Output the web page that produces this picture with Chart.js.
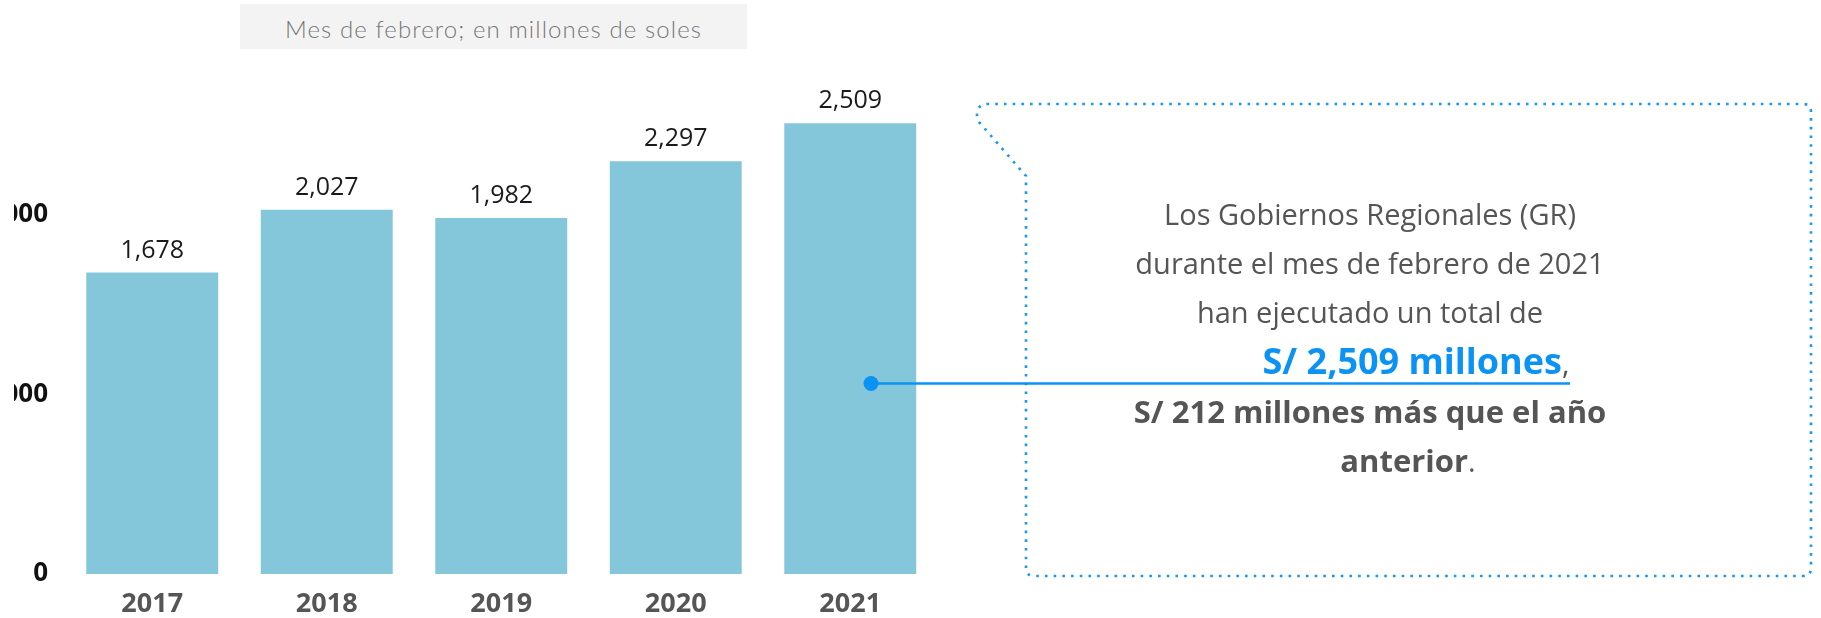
<!DOCTYPE html>
<html>
<head>
<meta charset="utf-8">
<script src="https://cdn.jsdelivr.net/npm/chart.js@4.4.1/dist/chart.umd.min.js"></script>
<style>
    html, body { margin: 0; padding: 0; background: #fff; }
    body { width: 1821px; height: 618px; position: relative; overflow: hidden; font-family: "Open Sans", sans-serif; }
    #chartBox { position: absolute; left: 0; top: 0; width: 1821px; height: 618px; }
    /* the y labels are cut on the left in the original */
    #chartBox canvas { clip-path: inset(0 0 0 14px); }
    #subtitle {
        position: absolute; left: 240px; top: 4px; width: 507px; height: 43px; padding-top: 2px;
        background: #f3f3f3; color: #777; text-align: center;
        font-family: Lato, sans-serif; font-weight: 300; font-size: 24px; letter-spacing: 1.1px; line-height: 45px;
    }
    #callout { position: absolute; left: 0; top: 0; }
    #note {
        position: absolute; left: 1030px; top: 189px; width: 680px;
        text-align: center; font-size: 29px; line-height: 49px; color: #555;
    }
    #note .total { position: relative; left: 46px; }
    #note .last { position: relative; left: 38px; }
    #note .hl { color: #0a93f5; font-weight: 700; font-size: 36px; }
    #note b { font-weight: 700; font-size: 31px; }
</style>
</head>
<body>
<div id="subtitle">Mes de febrero; en millones de soles</div>
<div id="chartBox"><canvas id="chart"></canvas></div>
<svg id="callout" width="1821" height="618">
    <!-- dotted frame with the notch on the top left -->
    <path d="M1026 568 L1026 176 L979 122 Q976 117 977.5 110 Q980 104 988 104 L1803 104 Q1811 104 1811 112 L1811 568 Q1811 576 1803 576 L1034 576 Q1026 576 1026 568 Z"
          fill="none" stroke="#1a98ee" stroke-width="2.6" stroke-dasharray="2.6 6.1"/>
    <line x1="871" y1="383.5" x2="1570" y2="383.5" stroke="#0a93f5" stroke-width="2.6"/>
    <circle cx="871" cy="383.5" r="7.5" fill="#0a93f5"/>
</svg>
<div id="note">
    Los Gobiernos Regionales (GR)<br>
    durante el mes de febrero de 2021<br>
    han ejecutado un total de<br>
    <span class="total"><span class="hl">S/ 2,509 millones</span>,</span><br>
    <b>S/ 212 millones más que el año</b><br>
    <span class="last"><b>anterior</b>.</span>
</div>

<script>
const years = ['2017', '2018', '2019', '2020', '2021'];
const values = [1678, 2027, 1982, 2297, 2509];
const yTicks = [0, 1000, 2000];
const yMax = 2800;

// numbers above each bar
const valueLabels = {
    id: 'valueLabels',
    afterDatasetsDraw(chart) {
        const ctx = chart.ctx;
        const meta = chart.getDatasetMeta(0);
        ctx.save();
        ctx.font = '25px "Open Sans"';
        ctx.fillStyle = '#1a1a1a';
        ctx.textAlign = 'center';
        ctx.textBaseline = 'alphabetic';
        meta.data.forEach((bar, i) => {
            ctx.fillText(values[i].toLocaleString('en-US'), bar.x, bar.y - 15);
        });
        ctx.restore();
    }
};

const ctx = document.getElementById('chart');

new Chart(ctx, {
    type: 'bar',
    data: {
        labels: years,
        datasets: [{
            data: values,
            backgroundColor: '#84c7da',
            borderWidth: 0,
            categoryPercentage: 1,
            barPercentage: 0.756
        }]
    },
    options: {
        responsive: true,
        maintainAspectRatio: false,
        animation: false,
        events: [],
        layout: {
            padding: {top: 71, right: 883.5, bottom: 0, left: 0}
        },
        plugins: {
            legend: {display: false},
            tooltip: {enabled: false}
        },
        scales: {
            x: {
                grid: {display: false, drawTicks: false},
                border: {display: false},
                ticks: {
                    color: '#555',
                    padding: 14,
                    maxRotation: 0,
                    font: {family: 'Open Sans', size: 27, weight: 'bold'}
                },
                afterFit: (scale) => { scale.height = 44; }
            },
            y: {
                min: 0,
                max: yMax,
                grid: {display: false, drawTicks: false},
                border: {display: false},
                ticks: {
                    color: '#111',
                    padding: 17,
                    font: {family: 'Open Sans', size: 26, weight: 'bold'},
                    callback: (v) => v.toLocaleString('en-US')
                },
                afterBuildTicks: (scale) => {
                    scale.ticks = yTicks.map(v => ({value: v}));
                },
                afterFit: (scale) => { scale.width = 65; }
            }
        }
    },
    plugins: [valueLabels]
});
</script>
</body>
</html>
